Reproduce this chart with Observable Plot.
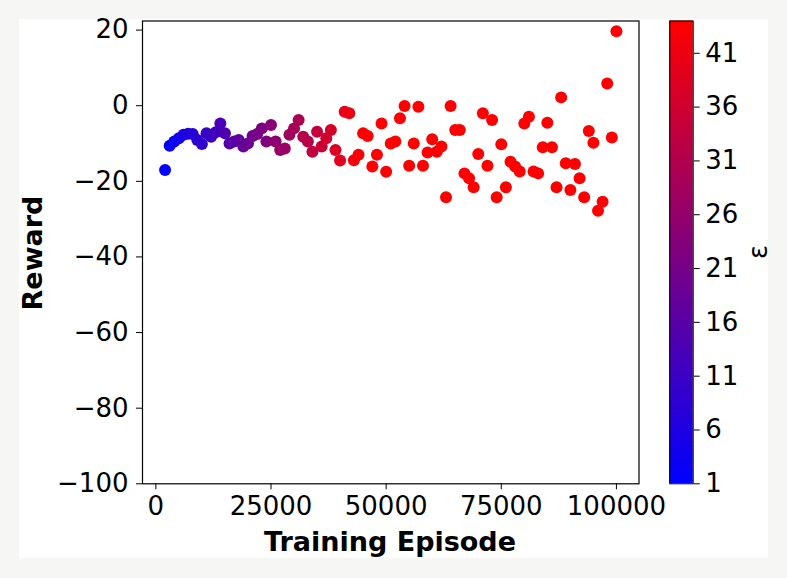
<!DOCTYPE html>
<html>
<head>
<meta charset="utf-8">
<script src="https://cdn.jsdelivr.net/npm/d3@7"></script>
<script src="https://cdn.jsdelivr.net/npm/@observablehq/plot@0.6"></script>
<style>
  html, body { margin: 0; padding: 0; background: #f6f6f4; }
  #wrap { position: relative; width: 787px; height: 578px; overflow: hidden; background: #f6f6f4; font-family: "DejaVu Sans", sans-serif; }
  #panel { position: absolute; left: 19px; top: 19px; width: 749px; height: 539px; background: #ffffff; }
  .abs { position: absolute; }
  .lbl { position: absolute; font-family: "DejaVu Sans", sans-serif; color: #000; white-space: nowrap; line-height: 1; }
</style>
</head>
<body>
<div id="wrap">
  <div id="panel"></div>
  <div id="main" class="abs" style="left:0;top:0;"></div>
  <div id="cbar" class="abs" style="left:660px;top:0;"></div>
  <div class="lbl" id="xlabel" style="font-size:27px;font-weight:bold;left:390px;top:528px;transform:translateX(-50%);">Training Episode</div>
  <div class="lbl" id="ylabel" style="font-size:27px;font-weight:bold;left:32px;top:253px;transform:translate(-50%,-50%) rotate(-90deg);">Reward</div>
  <div class="lbl" id="clabel" style="font-size:26px;left:758px;top:252px;transform:translate(-50%,-50%) rotate(-90deg);">ε</div>
</div>
<script>
// ---- data ----
const episodes = [
  2000, 3000, 4000, 5000, 6000, 7000, 8000, 9000, 10000, 11000,
  12000, 13000, 14000, 15000, 16000, 17000, 18000, 19000, 20000, 21000,
  22000, 23000, 24000, 25000, 26000, 27000, 28000, 29000, 30000, 31000,
  32000, 33000, 34000, 35000, 36000, 37000, 38000, 39000, 40000, 41000,
  42000, 43000, 44000, 45000, 46000, 47000, 48000, 49000, 50000, 51000,
  52000, 53000, 54000, 55000, 56000, 57000, 58000, 59000, 60000, 61000,
  62000, 63000, 64000, 65000, 66000, 67000, 68000, 69000, 70000, 71000,
  72000, 73000, 74000, 75000, 76000, 77000, 78000, 79000, 80000, 81000,
  82000, 83000, 84000, 85000, 86000, 87000, 88000, 89000, 90000, 91000,
  92000, 93000, 94000, 95000, 96000, 97000, 98000, 99000, 100000
];
const rewards = [
  -17.0, -10.6, -9.5, -8.6, -7.7, -7.4, -7.5, -9.1, -10.1, -7.3,
  -8.2, -7.0, -4.7, -7.3, -10.0, -9.5, -9.1, -10.8, -10.0, -8.0,
  -7.5, -6.0, -9.5, -5.1, -9.5, -11.7, -11.3, -7.7, -6.0, -3.8,
  -8.2, -9.5, -12.2, -6.9, -10.8, -8.6, -6.4, -11.7, -14.5, -1.6,
  -2.0, -14.4, -13.0, -7.3, -8.0, -16.1, -13.0, -4.7, -17.5, -10.0,
  -9.5, -3.3, -0.1, -15.9, -10.0, -0.3, -15.9, -12.4, -8.9, -12.2,
  -10.8, -24.2, -0.1, -6.4, -6.4, -17.9, -19.2, -21.6, -12.8, -2.0,
  -15.9, -3.8, -24.2, -10.2, -21.6, -14.8, -16.1, -17.4, -4.7, -2.9,
  -17.4, -17.9, -11.0, -4.5, -11.0, -21.6, 2.2, -15.2, -22.3, -15.4,
  -19.2, -24.2, -6.7, -9.8, -27.8, -25.4, 5.9, -8.4, 19.7
];
const epsilons = [
  1, 2, 3, 4, 5, 6, 7, 8, 9, 10,
  11, 12, 13, 14, 15, 16, 17, 18, 19, 20,
  21, 22, 23, 24, 25, 26, 27, 28, 29, 30,
  31, 32, 33, 34, 35, 36, 37, 38, 39, 40,
  41, 42, 43, 44, 44, 44, 44, 44, 44, 44,
  44, 44, 44, 44, 44, 44, 44, 44, 44, 44,
  44, 44, 44, 44, 44, 44, 44, 44, 44, 44,
  44, 44, 44, 44, 44, 44, 44, 44, 44, 44,
  44, 44, 44, 44, 44, 44, 44, 44, 44, 44,
  44, 44, 44, 44, 44, 44, 44, 44, 44
];
const xTicks = [0, 25000, 50000, 75000, 100000];
const yTicks = [-100, -80, -60, -40, -20, 0, 20];
const cTicks = [1, 6, 11, 16, 21, 26, 31, 36, 41];
const epsDomain = [1, 44];

const points = episodes.map((x, i) => ({x, reward: rewards[i], eps: epsilons[i]}));
const minus = d => String(d).replace("-", "\u2212");

const colorOpts = {type: "linear", domain: epsDomain, range: ["#0000ff", "#ff0000"], interpolate: "rgb"};
const fontStyle = {fontSize: "26px", fontFamily: "DejaVu Sans", background: "transparent", color: "#000", overflow: "visible"};

// ---- main chart ----
const W = 680, H = 578;
const main = Plot.plot({
  width: W, height: H,
  marginLeft: 142, marginRight: W - 638.5, marginTop: 20.5, marginBottom: H - 483.3,
  style: fontStyle,
  x: {domain: [-2900, 104900], ticks: xTicks, tickFormat: d => String(d), tickSize: 6, tickPadding: 6, label: null},
  y: {domain: [-100, 22.4], ticks: yTicks, tickFormat: minus, tickSize: 6, tickPadding: 8, label: null},
  color: colorOpts,
  marks: [
    Plot.dot(points, {x: "x", y: "reward", fill: "eps", r: 6, stroke: null}),
    Plot.frame({stroke: "#000", strokeWidth: 1.2}),
    Plot.axisX({ticks: xTicks, tickFormat: d => String(d), tickSize: 6, tickPadding: 7, label: null, fontSize: 26, stroke: "#000"}),
    Plot.axisY({ticks: yTicks, tickFormat: minus, tickSize: 6, tickPadding: 8, label: null, fontSize: 26, stroke: "#000"})
  ]
});
document.getElementById("main").appendChild(main);

// ---- colorbar ----
const CW = 127;
const nSlices = 215;
const step = (epsDomain[1] - epsDomain[0]) / nSlices;
const slices = d3.range(nSlices).map(i => ({v0: epsDomain[0] + i * step, v1: epsDomain[0] + (i + 1) * step}));
const cbar = Plot.plot({
  width: CW, height: H,
  marginLeft: 9.3, marginRight: CW - 9.3 - 23.4, marginTop: 20.5, marginBottom: H - 483.3,
  style: fontStyle,
  x: {domain: [0, 1], axis: null},
  y: {domain: epsDomain, label: null},
  color: colorOpts,
  marks: [
    Plot.rect(slices, {x1: 0, x2: 1, y1: "v0", y2: d => Math.min(d.v1 + step * 0.6, epsDomain[1]), fill: d => (d.v0 + d.v1) / 2}),
    Plot.frame({stroke: "#000", strokeWidth: 1}),
    Plot.axisY({anchor: "right", ticks: cTicks, tickSize: 6, tickPadding: 6, label: null, fontSize: 26, stroke: "#000"})
  ]
});
document.getElementById("cbar").appendChild(cbar);
</script>
</body>
</html>
